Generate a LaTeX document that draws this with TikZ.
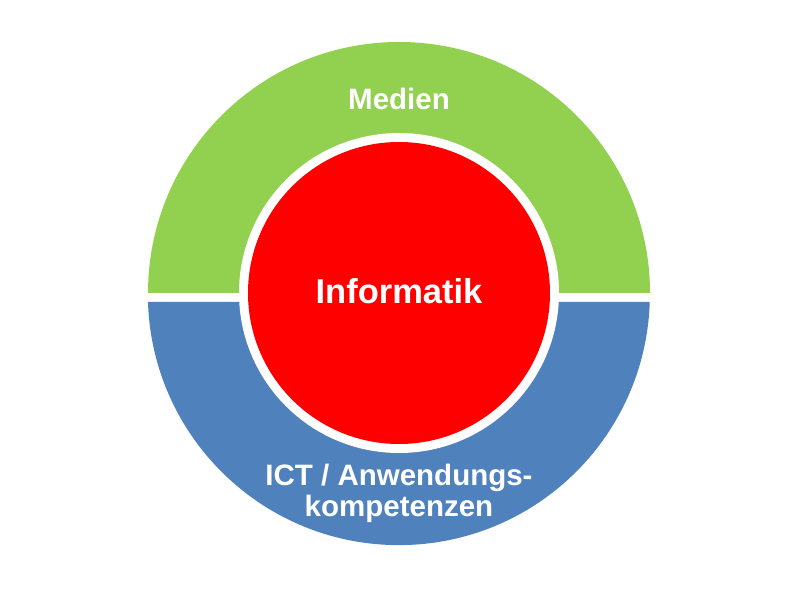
\documentclass[tikz,border=0pt]{standalone}
\usepackage{fontspec}
\setmainfont{Liberation Sans}
\definecolor{medgreen}{HTML}{92D050}
\definecolor{ictblue}{HTML}{4F81BD}
\definecolor{infred}{HTML}{FF0000}
\tikzset{ringtext/.style={text=white,font=\fontsize{29.5}{31}\selectfont\bfseries,align=center,anchor=base}}

\begin{document}
\begin{tikzpicture}[x=1pt,y=1pt]
        \useasboundingbox (0,0) rectangle (800,600);
        \fill[medgreen] (148,307) arc[start angle=180,end angle=0,radius=251] -- cycle;
        \fill[ictblue] (148,298) arc[start angle=181.8,end angle=358.2,radius=251] -- cycle;
        \fill[white] (399,307) circle[radius=160];
        \fill[infred] (399,307) circle[radius=151];
        \node[ringtext] (medien) at (399,490) {Medien};
        \node[ringtext,font=\fontsize{34.5}{36}\selectfont\bfseries] (informatik) at (399,296) {Informatik};
        \node[ringtext] (ict) at (399,84) {ICT / Anwendungs-\\kompetenzen};
    \end{tikzpicture}
\end{document}
